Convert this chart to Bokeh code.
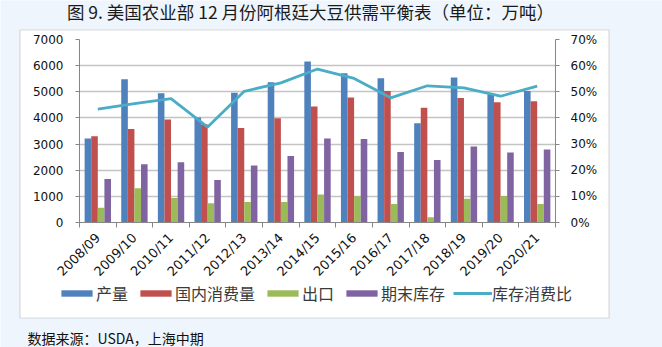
import math
import numpy as np
from bokeh.plotting import figure
from bokeh.models import (Range1d, LinearAxis, FixedTicker, NumeralTickFormatter, Label,
                          BoxAnnotation, Legend, LegendItem, ColumnDataSource)
from bokeh.transform import dodge
from bokeh.embed import file_html
from bokeh.resources import INLINE

years = ["2008/09", "2009/10", "2010/11", "2011/12", "2012/13", "2013/14", "2014/15",
         "2015/16", "2016/17", "2017/18", "2018/19", "2019/20", "2020/21"]
production = [3210, 5480, 4940, 4020, 4960, 5360, 6160, 5710, 5520, 3800, 5550, 4900, 5030]
consumption = [3300, 3580, 3940, 3760, 3610, 3990, 4440, 4780, 5030, 4390, 4760, 4600, 4640]
exports = [560, 1310, 940, 740, 780, 780, 1070, 1000, 710, 200, 910, 1010, 710]
ending_stocks = [1660, 2230, 2300, 1630, 2180, 2540, 3210, 3190, 2700, 2390, 2910, 2680, 2790]
stock_ratio = [0.434, 0.455, 0.474, 0.365, 0.502, 0.534, 0.587, 0.551, 0.477, 0.523, 0.515, 0.483, 0.522]

left_ticks = [0, 1000, 2000, 3000, 4000, 5000, 6000, 7000]
right_ticks = [0, 0.1, 0.2, 0.3, 0.4, 0.5, 0.6, 0.7]

series_names = ["产量", "国内消费量", "出口", "期末库存", "库存消费比"]
title_text = "图 9. 美国农业部 12 月份阿根廷大豆供需平衡表（单位：万吨）"
note_text = "数据来源：USDA，上海中期"

COLORS = ["#4F81BD", "#C0504D", "#9BBB59", "#8064A2", "#4BACC6"]
BG = "#EEF5FD"
GRAY = "#868686"
CJK = "Noto Sans CJK SC"
W, H = 662, 347

# ---------------- background / decoration layer ----------------
decor = figure(width=W, height=H, output_backend="svg", toolbar_location=None,
               x_axis_type=None, y_axis_type=None, min_border=0,
               x_range=Range1d(0, 1), y_range=Range1d(0, 1))
decor.background_fill_color = BG
decor.border_fill_color = BG
decor.outline_line_color = None
decor.grid.visible = False

decor.add_layout(BoxAnnotation(left=19.5, right=608.5, bottom=H - 317.5, top=H - 29.5,
                               left_units="screen", right_units="screen",
                               top_units="screen", bottom_units="screen",
                               fill_color="white", fill_alpha=1.0,
                               line_color="#8C8C8C", line_width=1.2))

# legend swatches: renderers holding a single missing value, so they draw nothing themselves
blank = ColumnDataSource(dict(x=np.array([np.nan]), y=np.array([np.nan])))
lg = []
for i in range(4):
    lg.append(decor.vbar(x="x", top="y", width=0.1, source=blank, fill_color=COLORS[i], line_color=None))
lg.append(decor.line(x="x", y="y", source=blank, line_color=COLORS[4], line_width=2.8))
legend = Legend(items=[LegendItem(label=n, renderers=[r]) for n, r in zip(series_names, lg)],
                orientation="horizontal", location=(57, H - 305),
                glyph_width=39, glyph_height=8, label_standoff=0, spacing=8,
                padding=0, margin=0, border_line_color=None, background_fill_alpha=0,
                label_text_font=CJK, label_text_font_size="16px", label_text_color="#3A3A3A",
                label_height=8)
decor.add_layout(legend)

decor.add_layout(Label(x=310, y=H - 11, x_units="screen", y_units="screen", text=title_text,
                       text_align="center", text_baseline="middle", text_font=CJK,
                       text_font_size="17.5px", text_color="#1A1A1A"))
decor.add_layout(Label(x=27, y=H - 337, x_units="screen", y_units="screen", text=note_text,
                       text_align="left", text_baseline="middle", text_font=CJK,
                       text_font_size="14px", text_color="#111111"))

# ---------------- chart layer ----------------
idx = list(range(len(years)))
src = ColumnDataSource(dict(x=idx, production=production, consumption=consumption,
                            exports=exports, stocks=ending_stocks, ratio=stock_ratio))

p = figure(width=W, height=H, output_backend="svg", toolbar_location=None,
           x_range=Range1d(-0.5, len(years) - 0.5), y_range=Range1d(0, 7000),
           min_border_left=79, min_border_right=107, min_border_top=39, min_border_bottom=125,
           styles={"position": "absolute", "left": "0px", "top": "0px"})
p.background_fill_color = "white"
p.border_fill_alpha = 0
p.outline_line_color = None
p.xgrid.visible = False
p.ygrid.grid_line_color = "#C4C4C4"
p.ygrid.grid_line_width = 1.3
p.ygrid.ticker = FixedTicker(ticks=left_ticks)

ya = p.yaxis[0]
ya.ticker = FixedTicker(ticks=left_ticks)
p.extra_y_ranges = {"pct": Range1d(0, 0.7)}
ra = LinearAxis(y_range_name="pct", ticker=FixedTicker(ticks=right_ticks),
                formatter=NumeralTickFormatter(format="0%"))
p.add_layout(ra, "right")
for ax, standoff in ((ya, 12), (ra, 11)):
    ax.axis_line_color = GRAY
    ax.major_tick_line_color = GRAY
    ax.major_tick_out = 4
    ax.major_tick_in = 0
    ax.minor_tick_out = 0
    ax.minor_tick_in = 0
    ax.major_label_standoff = standoff
    ax.major_label_text_font = "DejaVu Sans"
    ax.major_label_text_font_size = "12px"
    ax.major_label_text_color = "#111111"

xa = p.xaxis[0]
xa.ticker = FixedTicker(ticks=idx, minor_ticks=[i - 0.5 for i in range(len(years) + 1)])
xa.major_label_overrides = {i: y for i, y in zip(idx, years)}
xa.major_tick_out = 0
xa.major_tick_in = 0
xa.minor_tick_out = 5
xa.minor_tick_in = 0
xa.minor_tick_line_color = GRAY
xa.axis_line_color = GRAY
xa.major_label_orientation = math.pi / 4
xa.major_label_standoff = 8
xa.major_label_text_font = "DejaVu Sans"
xa.major_label_text_font_size = "13px"
xa.major_label_text_color = "#111111"

w = 0.18
p.vbar(x=dodge("x", -0.27), top="production", width=w, source=src, fill_color=COLORS[0], line_color=None)
p.vbar(x=dodge("x", -0.09), top="consumption", width=w, source=src, fill_color=COLORS[1], line_color=None)
p.vbar(x=dodge("x", 0.09), top="exports", width=w, source=src, fill_color=COLORS[2], line_color=None)
p.vbar(x=dodge("x", 0.27), top="stocks", width=w, source=src, fill_color=COLORS[3], line_color=None)
p.line(x="x", y="ratio", source=src, y_range_name="pct", line_color=COLORS[4], line_width=2.8)

open("out.html", "w").write(file_html([decor, p], INLINE))
